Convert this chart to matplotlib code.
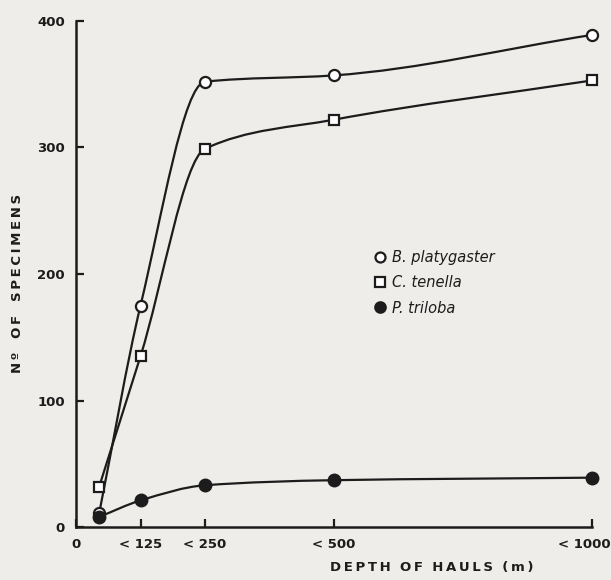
"""Number of specimens against depth of hauls."""

import matplotlib
import matplotlib.pyplot as plt
import matplotlib.transforms as mtransforms
from matplotlib.path import Path
from matplotlib.patches import PathPatch
import numpy as np

matplotlib.use("AGG")

INK = "#1c1c1c"
PAPER = "#efedea"
THIN = "\u2009"

depth = [45, 125, 250, 500, 1000]
platygaster = [11, 175, 352, 357, 389]
tenella = [32, 135, 299, 322, 353]
triloba = [8, 21, 33, 37, 39]

x_ticks = [0, 125, 250, 500, 1000]
x_tick_labels = ["0", "< 125", "< 250", "< 500", "< 1000"]
y_ticks = [0, 100, 200, 300, 400]


def spaced(text):
    """Spreads the letters a little, like the lettering on the original."""
    return THIN.join(text)


def smooth_path(xs, ys):
    """Monotone cubic through the points, as bezier segments."""
    xs = np.asarray(xs, float)
    ys = np.asarray(ys, float)
    h = np.diff(xs)
    d = np.diff(ys) / h
    m = np.zeros_like(xs)
    m[0], m[-1] = d[0], d[-1]
    for i in range(1, len(xs) - 1):
        if d[i - 1] * d[i] > 0:
            w1 = 2 * h[i] + h[i - 1]
            w2 = h[i] + 2 * h[i - 1]
            m[i] = (w1 + w2) / (w1 / d[i - 1] + w2 / d[i])
    verts = [(xs[0], ys[0])]
    codes = [Path.MOVETO]
    for i in range(len(xs) - 1):
        verts += [
            (xs[i] + h[i] / 3, ys[i] + m[i] * h[i] / 3),
            (xs[i + 1] - h[i] / 3, ys[i + 1] - m[i + 1] * h[i] / 3),
            (xs[i + 1], ys[i + 1]),
        ]
        codes += [Path.CURVE4] * 3
    return Path(verts, codes)


fig = plt.figure(figsize=(6.11, 5.80), dpi=100, facecolor=PAPER)
ax = fig.add_axes([76 / 611, 53 / 580, 516 / 611, 506 / 580])
ax.set_facecolor(PAPER)

for ys in (platygaster, tenella, triloba):
    ax.add_patch(PathPatch(smooth_path(depth, ys), fill=False, lw=1.6,
                           edgecolor=INK, clip_on=False, zorder=2))

ax.plot(depth, platygaster, "o", ms=8, mfc="white", mec=INK, mew=1.6,
        clip_on=False, zorder=3, label="B. platygaster")
ax.plot(depth, tenella, "s", ms=7.5, mfc="white", mec=INK, mew=1.6,
        clip_on=False, zorder=3, label="C. tenella")
ax.plot(depth, triloba, "o", ms=9, mfc=INK, mec=INK,
        clip_on=False, zorder=3, label="P. triloba")

ax.set_xlim(0, 1000)
ax.set_ylim(0, 400)
ax.spines[["top", "right"]].set_visible(False)
for s in ("left", "bottom"):
    ax.spines[s].set_linewidth(1.8)
    ax.spines[s].set_color(INK)

ax.set_xticks(x_ticks)
ax.set_xticklabels(x_tick_labels)
ax.set_yticks(y_ticks)
ax.tick_params(direction="in", length=6, width=1.6, color=INK,
               labelcolor=INK, labelsize=9.5, pad=8)
for lab in ax.get_xticklabels() + ax.get_yticklabels():
    lab.set_fontweight("bold")

# the last depth label sits a bit to the left, so it stays on the page
last = ax.get_xticklabels()[-1]
last.set_transform(last.get_transform() + mtransforms.ScaledTranslation(
    -8 / 100, 0, fig.dpi_scale_trans))

fig.text(18 / 611, 1 - 283 / 580, spaced("Nº") + "   " + spaced("OF") + "   "
         + spaced("SPECIMENS"), rotation=90, ha="center", va="center",
         fontsize=9.5, fontweight="bold", color=INK)
fig.text(432 / 611, 1 - 567 / 580, spaced("DEPTH") + "  " + spaced("OF")
         + "  " + spaced("HAULS") + "  " + spaced("(m)"),
         ha="center", va="center", fontsize=9.5, fontweight="bold", color=INK)

leg = ax.legend(loc="upper left", bbox_to_anchor=(284 / 516, 290 / 506),
                frameon=False, handletextpad=0.3, handlelength=1.0,
                labelspacing=0.7, markerscale=0.9,
                prop={"style": "italic", "size": 10.5})
for t in leg.get_texts():
    t.set_color(INK)

fig.savefig("out.png", dpi=100, facecolor=PAPER)
